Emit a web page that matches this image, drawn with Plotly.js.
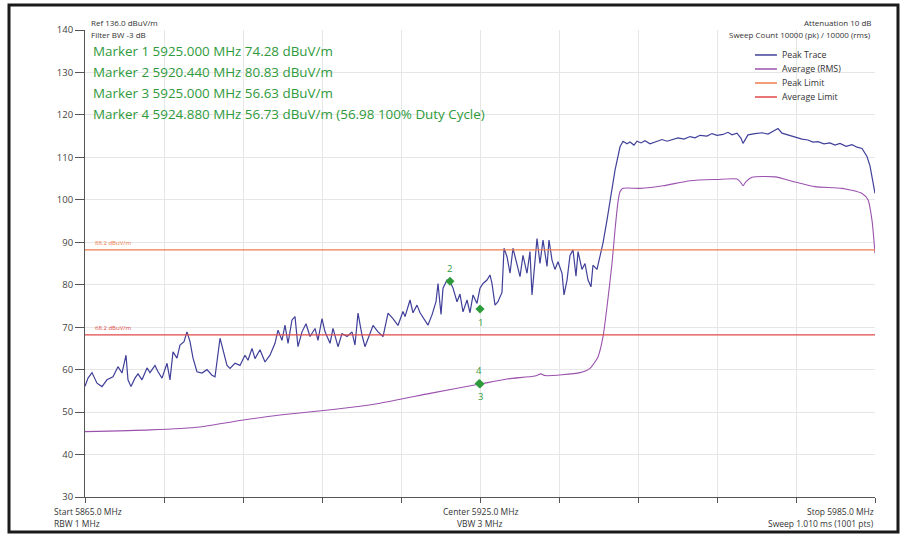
<!DOCTYPE html>
<html>
<head>
<meta charset="utf-8">
<script src="https://cdn.plot.ly/plotly-3.0.1.min.js"></script>
<style>
  html, body { margin: 0; padding: 0; background: #fff; }
  #chart { width: 904px; height: 536px; }
</style>
</head>
<body>
<div id="chart"></div>
<script>
// ---------- DATA ----------
const peakFreq = [
  5865.00,5865.46,5866.06,5866.82,5867.58,5868.34,5869.25,5870.01,5870.62,5871.23,
  5871.53,5871.99,5872.59,5873.05,5873.66,5874.42,5874.87,5875.63,5876.09,5876.70,
  5877.46,5877.91,5878.37,5878.97,5879.43,5880.04,5880.49,5880.95,5881.41,5882.01,
  5882.77,5883.53,5884.29,5884.75,5885.51,5885.96,5886.57,5887.03,5887.78,5888.54,
  5889.30,5889.76,5890.37,5890.82,5891.58,5892.34,5893.10,5893.86,5894.32,5894.92,
  5895.38,5895.84,5896.44,5896.90,5897.35,5897.96,5898.57,5899.18,5899.94,5900.39,
  5901.00,5901.46,5902.22,5902.67,5903.43,5904.04,5904.80,5905.56,5906.01,5906.47,
  5907.08,5907.53,5908.29,5908.75,5909.51,5910.27,5911.03,5911.78,5912.54,5913.30,
  5913.61,5914.37,5914.82,5915.43,5915.89,5916.34,5917.10,5917.71,5918.32,5918.62,
  5919.08,5919.38,5919.99,5920.44,5920.90,5921.51,5921.96,5922.42,5923.03,5923.48,
  5923.94,5924.54,5925.00,5925.46,5926.06,5926.52,5926.82,5927.28,5927.73,5928.34,
  5928.65,5929.10,5929.56,5930.01,5930.62,5931.08,5931.53,5932.14,5932.59,5932.90,
  5933.66,5934.11,5934.57,5935.18,5935.48,5935.94,5936.39,5936.85,5937.46,5937.76,
  5938.22,5938.67,5939.13,5939.58,5939.89,5940.49,5940.95,5941.41,5941.86,5942.16,
  5942.77,5943.23,5943.68,5944.29,5944.90,5945.51,5946.27,5946.72,5947.33,5947.78,
  5948.39,5948.85,5949.46,5950.06,5950.82,5951.89,5952.65,5953.41,5954.32,5955.08,
  5955.99,5956.90,5957.66,5958.42,5959.48,5960.24,5961.00,5961.91,5962.67,5963.28,
  5964.04,5964.65,5964.95,5965.41,5965.71,5966.77,5967.84,5968.75,5969.51,5970.27,
  5970.87,5971.78,5972.85,5973.91,5974.82,5975.58,5976.34,5977.25,5978.16,5978.92,
  5979.68,5980.60,5981.51,5982.27,5983.03,5983.78,5984.24,5984.54,5985.00
];
const peakLevel = [
  56.1,58.0,59.3,56.8,56.0,57.6,58.3,60.7,59.2,63.4,
  57.6,56.0,58.0,59.0,57.6,60.4,59.3,61.0,59.5,58.0,
  61.5,57.6,64.2,62.7,65.8,66.6,68.9,66.6,62.7,59.5,
  59.2,60.0,58.7,58.3,67.4,64.7,61.0,60.3,61.5,61.0,
  63.4,62.2,65.0,62.6,64.7,61.8,63.4,66.2,69.3,66.9,
  70.5,66.2,71.7,72.5,65.4,68.9,70.8,67.8,69.7,66.9,
  72.0,68.9,66.2,69.7,65.4,68.5,67.8,68.9,65.8,73.3,
  68.1,65.4,68.5,70.4,68.9,67.8,73.3,72.0,70.4,73.7,
  72.5,76.4,73.4,75.2,73.4,72.2,70.5,72.9,76.0,80.3,
  73.0,79.2,81.1,80.8,79.2,76.0,77.8,73.6,76.4,73.4,
  77.6,75.6,79.2,80.3,81.1,82.3,80.3,75.2,76.0,78.2,
  88.6,86.6,82.7,88.6,85.0,81.9,86.9,82.7,87.8,77.6,
  90.9,85.0,90.5,84.3,90.5,85.8,83.6,85.4,82.7,77.6,
  81.1,86.9,88.2,82.0,87.8,83.6,85.0,81.1,79.5,84.6,
  83.6,86.6,89.8,95.2,101.0,107.0,112.5,113.8,113.2,113.6,
  112.9,113.8,113.4,113.9,113.2,113.7,114.2,113.8,114.3,114.6,
  114.3,114.9,114.6,115.2,115.0,115.6,115.2,115.4,115.9,115.3,
  115.7,114.5,113.3,114.6,115.3,115.6,115.8,115.5,116.1,116.8,
  115.7,115.3,114.8,114.3,114.1,113.6,113.7,113.2,113.4,112.9,
  113.3,112.6,113.0,112.4,112.1,110.2,108.0,105.4,101.5
];
const avgFreq = [
  5865.00,5874.87,5882.47,5888.54,5894.62,5902.67,5909.81,5917.41,5925.00,5929.10,
  5933.35,5934.27,5934.87,5940.19,5941.71,5942.92,5943.68,5944.29,5945.05,5945.51,
  5945.96,5946.27,5946.72,5949.30,5952.80,5956.90,5961.00,5964.04,5964.65,5964.95,
  5965.41,5966.32,5969.81,5972.85,5975.89,5979.99,5983.03,5983.94,5984.54,5985.00
];
const avgLevel = [
  45.4,45.8,46.5,48.0,49.3,50.6,52.1,54.4,56.6,57.8,
  58.5,59.0,58.6,59.3,60.3,63.0,67.7,74.8,85.0,92.9,
  99.5,101.9,102.7,102.7,103.3,104.5,104.8,104.9,104.0,103.3,
  104.3,105.3,105.4,104.2,103.1,102.7,101.5,100.0,95.2,87.4
];
const limitFreq = [5865, 5985];
const peakLimit = [88.2, 88.2];
const avgLimit = [68.2, 68.2];

const markerNames = ["1", "2", "3", "4"];
const markerFreq = [5925.000, 5920.440, 5925.000, 5924.880];
const markerLevel = [74.28, 80.83, 56.63, 56.73];
const markerTexts = [
  "Marker 1 5925.000 MHz 74.28 dBuV/m",
  "Marker 2 5920.440 MHz 80.83 dBuV/m",
  "Marker 3 5925.000 MHz 56.63 dBuV/m",
  "Marker 4 5924.880 MHz 56.73 dBuV/m (56.98 100% Duty Cycle)"
];
const legendNames = ["Peak Trace", "Average (RMS)", "Peak Limit", "Average Limit"];
const yTicks = [30,40,50,60,70,80,90,100,110,120,130,140];

// ---------- STYLE ----------
const FONT = "Open Sans, Noto Sans, sans-serif";
const cPeak = "#40409a", cAvg = "#9a52ad", cPL = "#f07c4c", cAL = "#e04848", cMk = "#2f9a3c";
const lineColors = [cPeak, cAvg, cPL, cAL];

const traces = [
  {x: peakFreq, y: peakLevel, type: "scatter", mode: "lines", name: legendNames[0],
   line: {color: cPeak, width: 1.2}, showlegend: false},
  {x: avgFreq, y: avgLevel, type: "scatter", mode: "lines", name: legendNames[1],
   line: {color: cAvg, width: 1.1, shape: "spline", smoothing: 0.6}, showlegend: false},
  {x: limitFreq, y: peakLimit, type: "scatter", mode: "lines", name: legendNames[2],
   line: {color: cPL, width: 1.2}, showlegend: false},
  {x: limitFreq, y: avgLimit, type: "scatter", mode: "lines", name: legendNames[3],
   line: {color: cAL, width: 1.2}, showlegend: false},
  {x: markerFreq, y: markerLevel, type: "scatter", mode: "markers", name: "Markers",
   marker: {symbol: "diamond", size: 7, color: cMk}, showlegend: false}
];

const annotations = [];
const shapes = [];
const hdr = {family: FONT, size: 8, color: "#333"};
// header texts
annotations.push({xref: "paper", yref: "paper", x: 0.005, y: 1.0171, text: "Ref 136.0 dBuV/m",
  showarrow: false, xanchor: "left", yanchor: "middle", font: hdr});
annotations.push({xref: "paper", yref: "paper", x: 0.005, y: 0.9914, text: "Filter BW -3 dB",
  showarrow: false, xanchor: "left", yanchor: "middle", font: hdr});
annotations.push({xref: "paper", yref: "paper", x: 0.9975, y: 1.0171, text: "Attenuation 10 dB",
  showarrow: false, xanchor: "right", yanchor: "middle", font: hdr});
annotations.push({xref: "paper", yref: "paper", x: 0.9975, y: 0.9914, text: "Sweep Count 10000 (pk) / 10000 (rms)",
  showarrow: false, xanchor: "right", yanchor: "middle", font: hdr});
// marker readouts
const mkY = [0.9555, 0.9101, 0.8651, 0.8201];
markerTexts.forEach((t, i) => annotations.push({xref: "paper", yref: "paper", x: 0.0076, y: mkY[i], text: t,
  showarrow: false, xanchor: "left", yanchor: "middle", font: {family: FONT, size: 13.4, color: cMk}}));
// marker labels
const mkShift = [-13, 13, -13, 13];
markerNames.forEach((n, i) => annotations.push({x: markerFreq[i], y: markerLevel[i], text: n, showarrow: false,
  xanchor: "center", yanchor: "middle", yshift: mkShift[i], font: {family: FONT, size: 9.5, color: cMk}}));
// limit labels
annotations.push({xref: "paper", yref: "y", x: 0.01, y: peakLimit[0], text: "88.2 dBuV/m", showarrow: false,
  xanchor: "left", yanchor: "bottom", yshift: 1, font: {family: FONT, size: 6, color: cPL}});
annotations.push({xref: "paper", yref: "y", x: 0.01, y: avgLimit[0], text: "68.2 dBuV/m", showarrow: false,
  xanchor: "left", yanchor: "bottom", yshift: 1, font: {family: FONT, size: 6, color: cAL}});
// manual legend
const legY = [0.9465, 0.9165, 0.8865, 0.8565];
legendNames.forEach((n, i) => {
  shapes.push({type: "line", xref: "paper", yref: "paper", x0: 0.8481, x1: 0.8759, y0: legY[i], y1: legY[i],
    line: {color: lineColors[i], width: 1.5}});
  annotations.push({xref: "paper", yref: "paper", x: 0.8797, y: legY[i], text: n, showarrow: false,
    xanchor: "left", yanchor: "middle", font: {family: FONT, size: 8.8, color: "#333"}});
});
// x-axis labels
const xl = [
  ["Start 5865.0 MHz", -0.0418, "left", -0.0321], ["RBW 1 MHz", -0.0418, "left", -0.0557],
  ["Center 5925.0 MHz", 0.5, "center", -0.0321], ["VBW 3 MHz", 0.5, "center", -0.0557],
  ["Stop 5985.0 MHz", 1.001, "right", -0.0321], ["Sweep 1.010 ms (1001 pts)", 1.001, "right", -0.0557]
];
xl.forEach(a => annotations.push({xref: "paper", yref: "paper", x: a[1], y: a[3], text: a[0], showarrow: false,
  xanchor: a[2], yanchor: "middle", font: {family: FONT, size: 8.5, color: "#333"}}));
// outer frame
shapes.push({type: "rect", xref: "paper", yref: "paper", x0: -0.0962, x1: 1.0291, y0: -0.0749, y1: 1.0535,
  line: {color: "#1a1a1a", width: 3}, layer: "above"});

const layout = {
  width: 904, height: 536,
  margin: {l: 85, r: 29, t: 30, b: 39, pad: 0},
  paper_bgcolor: "#fff", plot_bgcolor: "#fff",
  showlegend: false,
  font: {family: FONT, size: 10, color: "#444"},
  xaxis: {
    range: [5865, 5985], tick0: 5865, dtick: 12, showticklabels: false,
    ticks: "outside", ticklen: 5, tickcolor: "#555", tickwidth: 1,
    showline: true, linecolor: "#555", linewidth: 1,
    showgrid: true, gridcolor: "#e6e6e6", gridwidth: 1, zeroline: false, fixedrange: true
  },
  yaxis: {
    range: [30, 140], tickvals: yTicks, ticktext: yTicks.map(String),
    ticks: "outside", ticklen: 9, tickcolor: "#555", tickwidth: 1,
    tickfont: {family: FONT, size: 9.5, color: "#444"},
    showline: true, linecolor: "#555", linewidth: 1,
    showgrid: true, gridcolor: "#e6e6e6", gridwidth: 1, zeroline: false, fixedrange: true
  },
  annotations: annotations,
  shapes: shapes
};

Plotly.newPlot("chart", traces, layout, {staticPlot: true, displayModeBar: false});
</script>
</body>
</html>
